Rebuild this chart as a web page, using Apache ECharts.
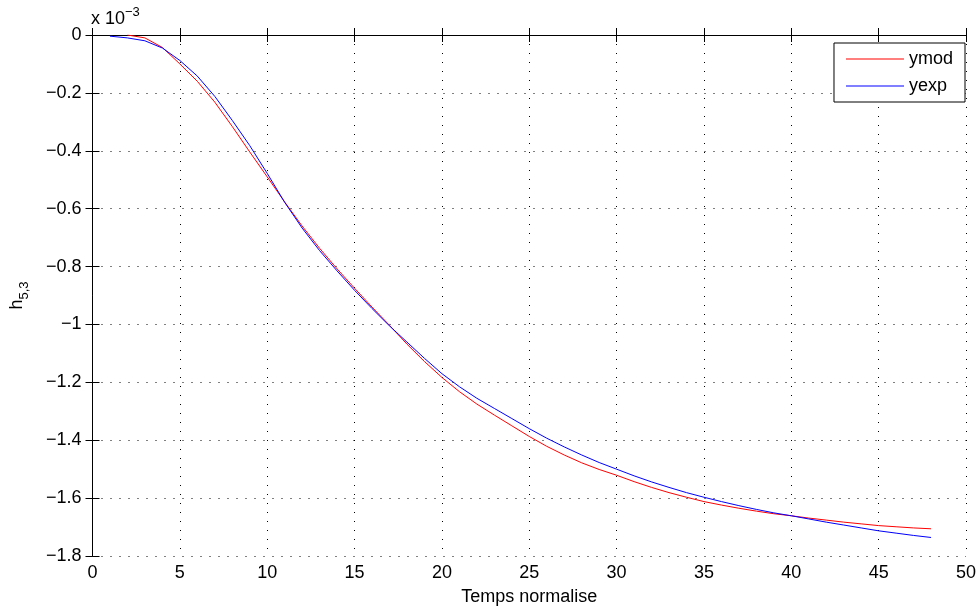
<!DOCTYPE html>
<html>
<head>
<meta charset="utf-8">
<script src="https://cdn.jsdelivr.net/npm/echarts@6/dist/echarts.min.js"></script>
<style>
  html, body { margin: 0; padding: 0; background: #fff; }
  #chart { width: 980px; height: 614px; }
</style>
</head>
<body>
<div id="chart"></div>
<script>
// temps normalise (x) for each curve
const xMod = [2, 3, 4, 5, 6, 7, 8, 9, 10, 11, 12, 13, 14, 15, 16, 17, 18, 19, 20, 21, 22, 23, 24, 25,
  26, 27, 28, 29, 30, 31, 32, 33, 34, 35, 36, 37, 38, 39, 40, 41, 42, 43, 44, 45, 46, 47, 48]
const xExp = [1, 2, 3, 4, 5, 6, 7, 8, 9, 10, 11, 12, 13, 14, 15, 16, 17, 18, 19, 20, 21, 22, 23, 24, 25,
  26, 27, 28, 29, 30, 31, 32, 33, 34, 35, 36, 37, 38, 39, 40, 41, 42, 43, 44, 45, 46, 47, 48]

// h(5,3) values, unit 1e-3
const yMod = [0.000, -0.010, -0.043, -0.100, -0.160, -0.232, -0.316, -0.404, -0.490, -0.577,
  -0.660, -0.737, -0.808, -0.875, -0.940, -1.003, -1.068, -1.128, -1.183, -1.232, -1.275,
  -1.313, -1.350, -1.387, -1.421, -1.451, -1.478, -1.501, -1.521, -1.543, -1.563, -1.581,
  -1.597, -1.612, -1.624, -1.635, -1.645, -1.654, -1.661, -1.669, -1.676, -1.683, -1.689,
  -1.695, -1.699, -1.703, -1.706]
const yExp = [-0.004, -0.010, -0.020, -0.045, -0.088, -0.142, -0.212, -0.295, -0.382, -0.478,
  -0.578, -0.667, -0.745, -0.815, -0.882, -0.945, -1.005, -1.061, -1.117, -1.170, -1.215,
  -1.255, -1.290, -1.325, -1.360, -1.393, -1.423, -1.451, -1.477, -1.500, -1.523, -1.544,
  -1.563, -1.581, -1.597, -1.612, -1.626, -1.639, -1.651, -1.661, -1.672, -1.683, -1.693,
  -1.703, -1.713, -1.721, -1.729, -1.736]

const seriesNames = ['ymod', 'yexp']
const seriesColors = ['#ff0000', '#0000ff']

const FONT = 'Liberation Sans, Arial, Helvetica, sans-serif'

function fmtY(v) {
  const r = +v.toFixed(1)
  if (r === 0) return '0'
  return (r < 0 ? '\u2212' : '') + String(Math.abs(r))
}

const gridLine = { show: true, lineStyle: { color: '#000', width: 1, type: [1, 8] } }
const axisLine = { show: true, lineStyle: { color: '#000', width: 1 } }
const tick = { show: true, inside: true, length: 7, lineStyle: { color: '#000' } }
const label = { color: '#000', fontSize: 18, fontFamily: FONT }

const chart = echarts.init(document.getElementById('chart'))

chart.setOption({
  animation: false,
  backgroundColor: '#fff',
  textStyle: { fontFamily: FONT },
  title: {
    text: '{a|x 10}{b|\u22123}',
    left: 86,
    top: 1,
    textStyle: {
      rich: {
        a: { fontSize: 18, fontWeight: 'normal', fontFamily: FONT, color: '#000', verticalAlign: 'bottom', padding: [4, 0, 0, 0] },
        b: { fontSize: 13, fontWeight: 'normal', fontFamily: FONT, color: '#000', verticalAlign: 'top' }
      }
    }
  },
  grid: { left: 90, right: 14, top: 35, bottom: 58 },
  legend: {
    orient: 'vertical',
    right: 15,
    top: 43,
    backgroundColor: '#fff',
    borderColor: '#000',
    borderWidth: 1,
    padding: [7, 12, 7, 12],
    itemGap: 9,
    itemWidth: 58,
    itemHeight: 1,
    icon: 'rect',
    textStyle: { color: '#000', fontSize: 18, fontFamily: FONT },
    data: seriesNames
  },
  xAxis: [
    {
      type: 'value', min: 0, max: 50, interval: 5,
      name: 'Temps normalise', nameLocation: 'middle', nameGap: 32,
      nameTextStyle: { color: '#000', fontSize: 18, fontFamily: FONT },
      axisLine: axisLine, axisTick: tick, splitLine: gridLine,
      axisLabel: Object.assign({ margin: 8 }, label)
    },
    {
      type: 'value', min: 0, max: 50, interval: 5, position: 'top',
      axisLine: axisLine, axisTick: tick, splitLine: { show: false },
      axisLabel: { show: false }
    }
  ],
  yAxis: [
    {
      type: 'value', min: -1.8, max: 0, interval: 0.2,
      name: '{h|h}{s|5,3}', nameLocation: 'middle', nameGap: 62, nameRotate: 90,
      nameTextStyle: {
        rich: {
          h: { fontSize: 18, fontFamily: FONT, color: '#000' },
          s: { fontSize: 13, fontFamily: FONT, color: '#000', padding: [14, 0, 0, 0] }
        }
      },
      axisLine: axisLine, axisTick: tick, splitLine: gridLine,
      axisLabel: Object.assign({ margin: 11, formatter: fmtY }, label)
    },
    {
      type: 'value', min: -1.8, max: 0, interval: 0.2, position: 'right',
      axisLine: axisLine, axisTick: tick, splitLine: { show: false },
      axisLabel: { show: false }
    }
  ],
  series: [
    {
      name: seriesNames[0], type: 'line', symbol: 'none',
      color: seriesColors[0], lineStyle: { width: 1, color: seriesColors[0] },
      data: xMod.map((x, i) => [x, yMod[i]])
    },
    {
      name: seriesNames[1], type: 'line', symbol: 'none',
      color: seriesColors[1], lineStyle: { width: 1, color: seriesColors[1] },
      data: xExp.map((x, i) => [x, yExp[i]])
    }
  ]
})
</script>
</body>
</html>
